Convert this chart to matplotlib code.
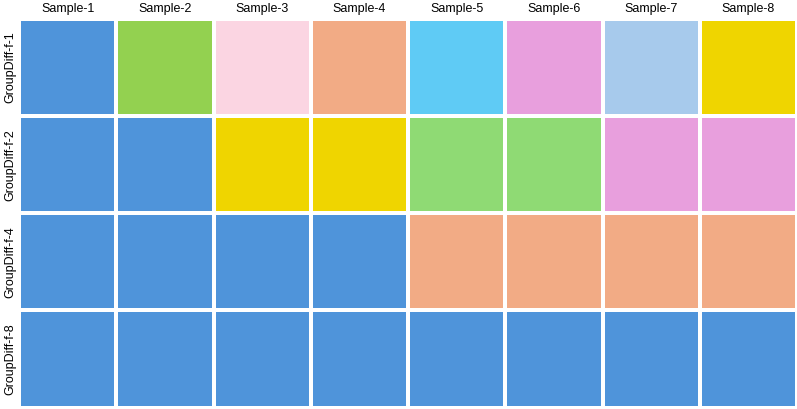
import matplotlib.pyplot as plt
import numpy as np
from matplotlib.colors import to_rgb

plt.rcParams["font.family"] = ["Liberation Sans", "DejaVu Sans"]

samples = [f"Sample-{i}" for i in range(1, 9)]
groupings = ["GroupDiff-f-1", "GroupDiff-f-2", "GroupDiff-f-4", "GroupDiff-f-8"]

# group membership per grouping (one row each)
groups_f1 = ["g1", "g2", "g3", "g4", "g5", "g6", "g7", "g8"]
groups_f2 = ["g1", "g1", "g2", "g2", "g3", "g3", "g4", "g4"]
groups_f4 = ["g1", "g1", "g1", "g1", "g2", "g2", "g2", "g2"]
groups_f8 = ["g1", "g1", "g1", "g1", "g1", "g1", "g1", "g1"]

# colours per group, per row
colors_f1 = {"g1": "#4f94da", "g2": "#93d150", "g3": "#fbd5e2", "g4": "#f2ab85",
             "g5": "#5fcbf5", "g6": "#e89fdd", "g7": "#a7caec", "g8": "#efd500"}
colors_f2 = {"g1": "#4f94da", "g2": "#efd500", "g3": "#8fda74", "g4": "#e89fdd"}
colors_f4 = {"g1": "#4f94da", "g2": "#f2ab85"}
colors_f8 = {"g1": "#4f94da"}

rows = [(groups_f1, colors_f1), (groups_f2, colors_f2),
        (groups_f4, colors_f4), (groups_f8, colors_f8)]
rgb = np.array([[to_rgb(cmap[g]) for g in grp] for grp, cmap in rows])

fig = plt.figure(figsize=(7.97, 4.09), dpi=100)
ax = fig.add_axes([19 / 797, 1.5 / 409, 778 / 797, 388.5 / 409])

ax.pcolormesh(np.arange(len(samples) + 1), np.arange(len(groupings) + 1), rgb,
              edgecolors="white", linewidth=1.6)
ax.set_xlim(0, len(samples))
ax.set_ylim(len(groupings), 0)

ax.set_xticks(np.arange(len(samples)) + 0.5)
ax.set_xticklabels(samples, fontsize=9)
ax.xaxis.tick_top()
ax.set_yticks(np.arange(len(groupings)) + 0.5)
ax.set_yticklabels(groupings, fontsize=9, rotation=90, va="center")
ax.tick_params(axis="x", length=0, pad=3)
ax.tick_params(axis="y", length=0, pad=2)
for s in ax.spines.values():
    s.set_visible(False)

fig.savefig("out.png", dpi=100)
